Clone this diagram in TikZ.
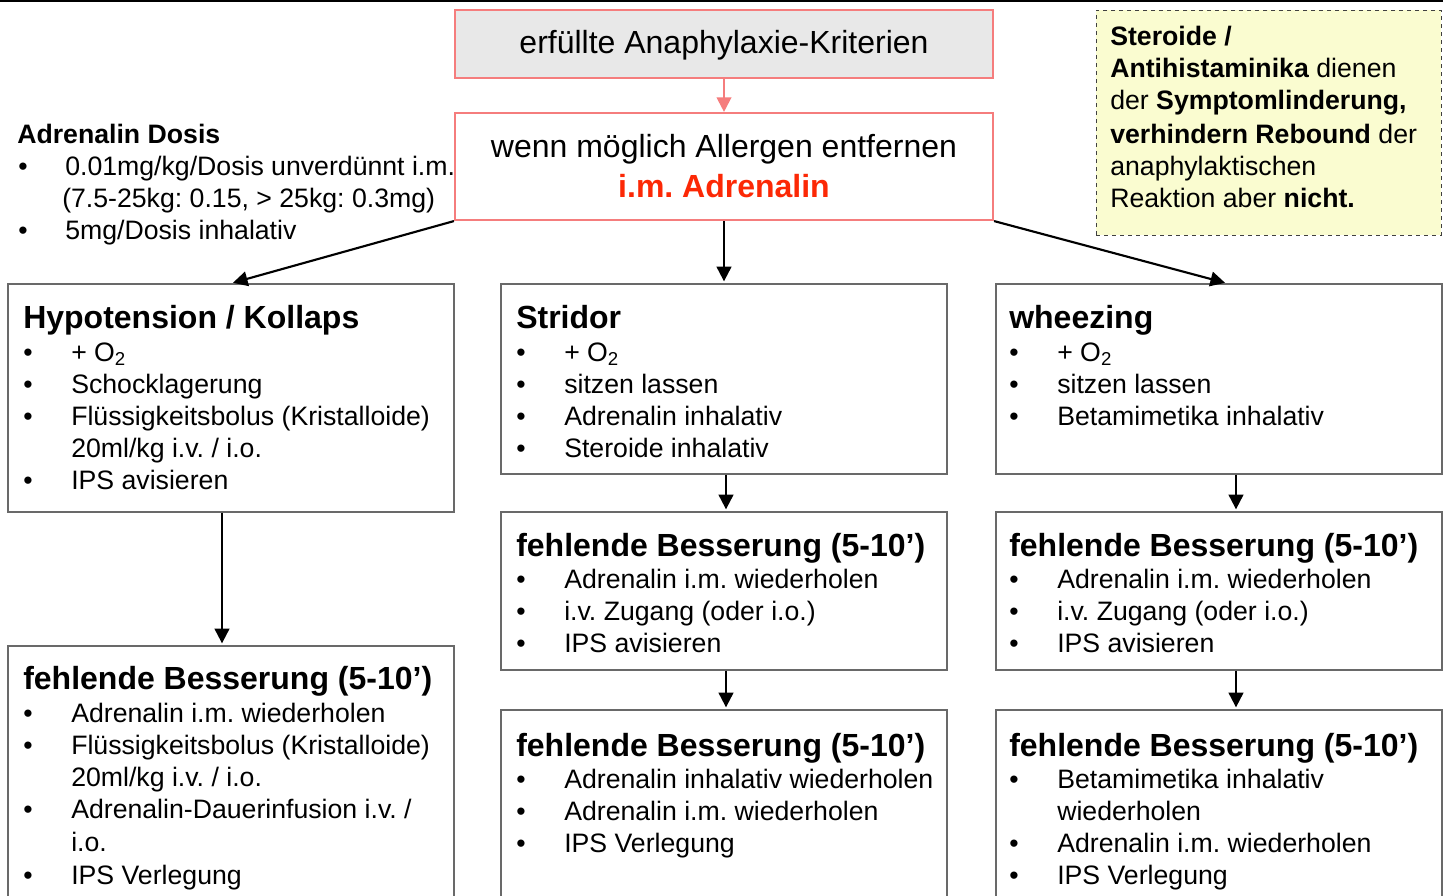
\documentclass[tikz,border=0pt]{standalone}
\usepackage{fontspec}
\setmainfont{Liberation Sans}
\usetikzlibrary{fit,arrows.meta}
\definecolor{pinkb}{RGB}{245,125,125}
\definecolor{redt}{RGB}{252,40,5}
\definecolor{grayf}{RGB}{232,232,232}
\definecolor{notef}{RGB}{250,252,208}
\definecolor{boxb}{RGB}{105,105,105}
\newcommand\litem[5]{\node[txt] (#1b) at (#2,#4) {\textbullet}; \node[txt] (#1) at (#3,#4) {#5};}
\frenchspacing
\begin{document}
\begin{tikzpicture}[x=0.75pt,y=-0.75pt,
  txt/.style={anchor=base west, inner sep=0, font=\fontsize{20}{22}\selectfont},
  hd/.style={anchor=base west, inner sep=0, font=\fontsize{24}{26}\selectfont\bfseries},
  big/.style={anchor=base, inner sep=0, font=\fontsize{24}{26}\selectfont},
  box/.style={draw=boxb, line width=1pt, inner sep=0},
  pbox/.style={draw=pinkb, line width=1.6pt, inner sep=0},
  notebox/.style={draw=black!75, dashed, line width=0.6pt, fill=notef, inner sep=0},
  arr/.style={-{Triangle[length=11pt,width=11pt]}, line width=1.6pt, black, shorten >=1.5pt},
  parr/.style={-{Triangle[length=11pt,width=11pt]}, line width=1.6pt, pinkb}]
\useasboundingbox (0,0) rectangle (1453,896);
\clip (0,0) rectangle (1453,896);
\draw[line width=1.4pt] (0,1) -- (1443,1);

% top boxes
\node[pbox, fill=grayf, fit={(455,10) (993,78)}] (k) {};
\node[big] (kt) at (724,53) {erfüllte Anaphylaxie-Kriterien};
\node[pbox, fill=white, fit={(455,113) (993,220)}] (m) {};
\node[big] (mt1) at (724,157) {wenn möglich Allergen entfernen};
\node[big, font=\fontsize{24}{26}\selectfont\bfseries, text=redt] (mt2) at (724,197) {i.m. Adrenalin};
\draw[parr] (k.south -| mt1.base) -- (m.north -| mt1.base);

% note
\node[notebox, fit={(1096,10) (1441,235)}] (note) {};
\node[txt] (n1) at (1110,45) {\textbf{Steroide /}};
\node[txt] (n2) at (1110,77) {\textbf{Antihistaminika} dienen};
\node[txt] (n3) at (1110,109) {der \textbf{Symptomlinderung,}};
\node[txt] (n4) at (1110,143) {\textbf{verhindern Rebound} der};
\node[txt] (n5) at (1110,175) {anaphylaktischen};
\node[txt] (n6) at (1110,207) {Reaktion aber \textbf{nicht.}};

% Adrenalin Dosis
\node[txt, font=\fontsize{20}{22}\selectfont\bfseries] (ad) at (17,143) {Adrenalin Dosis};
\litem{ad1}{18}{65}{175}{0.01mg/kg/Dosis unverdünnt i.m.}
\node[txt] (ad1c) at (62,207) {(7.5-25kg: 0.15, > 25kg: 0.3mg)};
\litem{ad2}{18}{65}{239}{5mg/Dosis inhalativ}

% left column
\node[box, fit={(8,284) (454,512)}] (h1) {};
\node[hd] (h1h) at (23,328) {Hypotension / Kollaps};
\litem{h1a}{23}{71}{361}{+ O\textsubscript{2}}
\litem{h1b}{23}{71}{393}{Schocklagerung}
\litem{h1c}{23}{71}{425}{Flüssigkeitsbolus (Kristalloide)}
\node[txt] (h1d) at (71,457) {20ml/kg i.v. / i.o.};
\litem{h1e}{23}{71}{489}{IPS avisieren}

\node[box, fit={(8,646) (454,905)}] (h2) {};
\node[hd] (h2h) at (23,689) {fehlende Besserung (5-10’)};
\litem{h2a}{23}{71}{722}{Adrenalin i.m. wiederholen}
\litem{h2b}{23}{71}{754}{Flüssigkeitsbolus (Kristalloide)}
\node[txt] (h2c) at (71,786) {20ml/kg i.v. / i.o.};
\litem{h2d}{23}{71}{818}{Adrenalin-Dauerinfusion i.v. /}
\node[txt] (h2e) at (71,851) {i.o.};
\litem{h2f}{23}{71}{884}{IPS Verlegung}

% middle column
\node[box, fit={(501,284) (947,474)}] (s1) {};
\node[hd] (s1h) at (516,328) {Stridor};
\litem{s1a}{516}{564}{361}{+ O\textsubscript{2}}
\litem{s1b}{516}{564}{393}{sitzen lassen}
\litem{s1c}{516}{564}{425}{Adrenalin inhalativ}
\litem{s1d}{516}{564}{457}{Steroide inhalativ}

\node[box, fit={(501,512) (947,670)}] (s2) {};
\node[hd] (s2h) at (516,556) {fehlende Besserung (5-10’)};
\litem{s2a}{516}{564}{588}{Adrenalin i.m. wiederholen}
\litem{s2b}{516}{564}{620}{i.v. Zugang (oder i.o.)}
\litem{s2c}{516}{564}{652}{IPS avisieren}

\node[box, fit={(501,710) (947,905)}] (s3) {};
\node[hd] (s3h) at (516,756) {fehlende Besserung (5-10’)};
\litem{s3a}{516}{564}{788}{Adrenalin inhalativ wiederholen}
\litem{s3b}{516}{564}{820}{Adrenalin i.m. wiederholen}
\litem{s3c}{516}{564}{852}{IPS Verlegung}

% right column
\node[box, fit={(996,284) (1442,474)}] (w1) {};
\node[hd] (w1h) at (1009,328) {wheezing};
\litem{w1a}{1009}{1057}{361}{+ O\textsubscript{2}}
\litem{w1b}{1009}{1057}{393}{sitzen lassen}
\litem{w1c}{1009}{1057}{425}{Betamimetika inhalativ}

\node[box, fit={(996,512) (1442,670)}] (w2) {};
\node[hd] (w2h) at (1009,556) {fehlende Besserung (5-10’)};
\litem{w2a}{1009}{1057}{588}{Adrenalin i.m. wiederholen}
\litem{w2b}{1009}{1057}{620}{i.v. Zugang (oder i.o.)}
\litem{w2c}{1009}{1057}{652}{IPS avisieren}

\node[box, fit={(996,710) (1442,905)}] (w3) {};
\node[hd] (w3h) at (1009,756) {fehlende Besserung (5-10’)};
\litem{w3a}{1009}{1057}{788}{Betamimetika inhalativ}
\node[txt] (w3b) at (1057,820) {wiederholen};
\litem{w3c}{1009}{1057}{852}{Adrenalin i.m. wiederholen}
\litem{w3d}{1009}{1057}{884}{IPS Verlegung}

% connectors
\draw[arr] (m.south west) -- (h1.north);
\draw[arr] (m.south) -- (s1.north);
\draw[arr] (m.south east) -- ([xshift=6pt]w1.north);
\draw[arr] ([xshift=-6.75pt]h1.south) -- ([xshift=-6.75pt]h2.north);
\draw[arr] ([xshift=1.5pt]s1.south) -- ([xshift=1.5pt]s2.north);
\draw[arr] ([xshift=1.5pt]s2.south) -- ([xshift=1.5pt]s3.north);
\draw[arr] ([xshift=12.75pt]w1.south) -- ([xshift=12.75pt]w2.north);
\draw[arr] ([xshift=12.75pt]w2.south) -- ([xshift=12.75pt]w3.north);
\end{tikzpicture}
\end{document}
